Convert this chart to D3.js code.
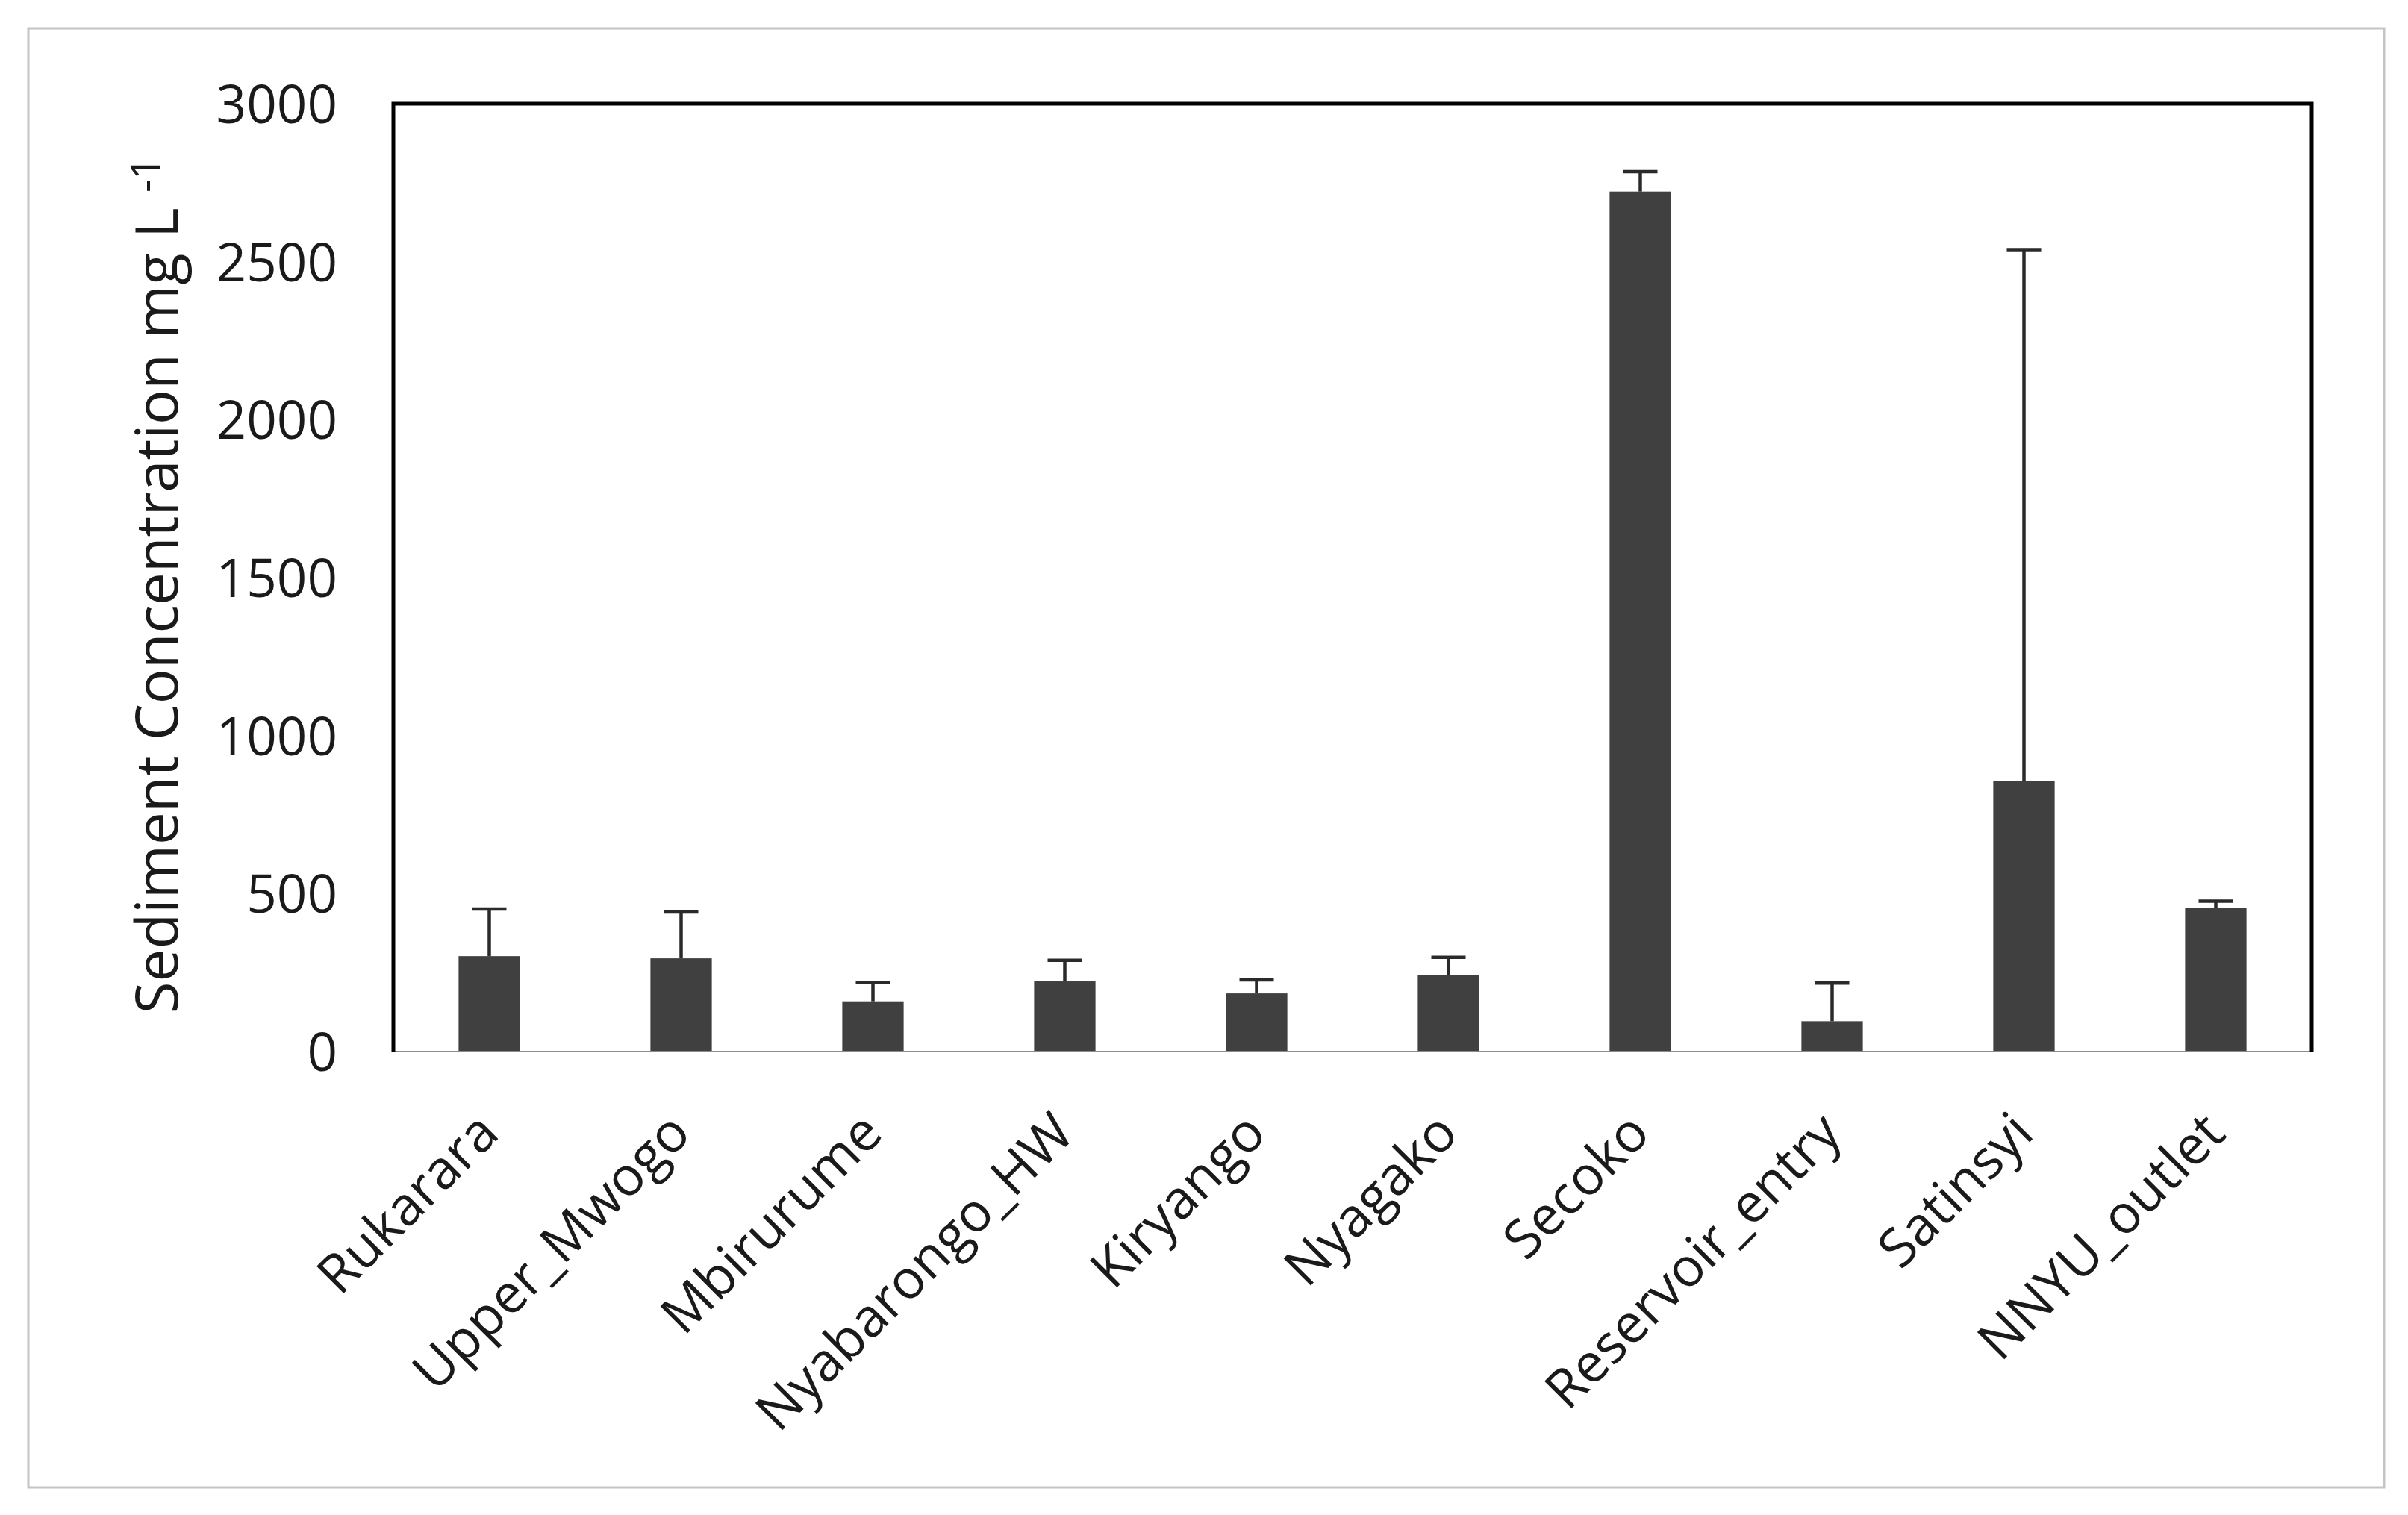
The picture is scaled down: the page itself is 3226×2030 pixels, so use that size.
<!DOCTYPE html>
<html>
<head>
<meta charset="utf-8">
<script src="https://cdnjs.cloudflare.com/ajax/libs/d3/7.8.5/d3.min.js"></script>
<style>
  html, body { margin: 0; padding: 0; background: #ffffff; }
  svg { display: block; }
</style>
</head>
<body>
<script>
// ---- data ----
const categories = ["Rukarara", "Upper_Mwogo", "Mbirurume", "Nyabarongo_HW", "Kiryango",
                    "Nyagako", "Secoko", "Reservoir_entry", "Satinsyi", "NNYU_outlet"];
const values = [302, 295, 159, 222, 184, 242, 2722, 96, 856, 454];
const upperErrors = [149, 147, 59, 67, 43, 56, 63, 121, 1682, 22];
const yTicks = [0, 500, 1000, 1500, 2000, 2500, 3000];
const yTitle = "Sediment Concentration mg L";
const yTitleSup = "-1";

// ---- layout ----
const W = 3226, H = 2030;
const plot = { left: 527, right: 3097, top: 139, bottom: 1409 };
const FONT = "'Open Sans', 'Noto Sans', sans-serif";

const svg = d3.select("body").append("svg")
  .attr("width", W).attr("height", H)
  .attr("viewBox", `0 0 ${W} ${H}`);

svg.append("rect").attr("width", W).attr("height", H).attr("fill", "#ffffff");

// outer chart border
svg.append("rect")
  .attr("x", 38).attr("y", 38)
  .attr("width", 3194 - 38).attr("height", 1993 - 38)
  .attr("fill", "none").attr("stroke", "#c4c4c4").attr("stroke-width", 3);

const x = d3.scaleBand()
  .domain(categories)
  .range([plot.left, plot.right])
  .paddingInner(0.68)
  .paddingOuter(0.34);

const y = d3.scaleLinear()
  .domain([0, 3000])
  .range([plot.bottom, plot.top]);

// bars
const data = categories.map((c, i) => ({ c, v: values[i], e: upperErrors[i] }));

svg.append("g").selectAll("rect")
  .data(data).join("rect")
  .attr("x", d => x(d.c))
  .attr("y", d => y(d.v))
  .attr("width", x.bandwidth())
  .attr("height", d => y(0) - y(d.v))
  .attr("fill", "#404040");

// error bars (upper only)
const capW = 46;
const eg = svg.append("g").attr("stroke", "#2a2a2a").attr("stroke-width", 4.5).attr("fill", "none");
eg.selectAll("line.stem").data(data).join("line").attr("class", "stem")
  .attr("x1", d => x(d.c) + x.bandwidth() / 2)
  .attr("x2", d => x(d.c) + x.bandwidth() / 2)
  .attr("y1", d => y(d.v))
  .attr("y2", d => y(d.v + d.e));
eg.selectAll("line.cap").data(data).join("line").attr("class", "cap")
  .attr("x1", d => x(d.c) + x.bandwidth() / 2 - capW / 2)
  .attr("x2", d => x(d.c) + x.bandwidth() / 2 + capW / 2)
  .attr("y1", d => y(d.v + d.e))
  .attr("y2", d => y(d.v + d.e));

// bottom axis line (thin gray)
svg.append("line")
  .attr("x1", plot.left).attr("x2", plot.right)
  .attr("y1", plot.bottom).attr("y2", plot.bottom)
  .attr("stroke", "#8c8c8c").attr("stroke-width", 2);

// frame: left, top, right (thick black)
svg.append("path")
  .attr("d", `M${plot.left},${plot.bottom} L${plot.left},${plot.top} L${plot.right},${plot.top} L${plot.right},${plot.bottom}`)
  .attr("fill", "none").attr("stroke", "#000000").attr("stroke-width", 5)
  .attr("stroke-linejoin", "miter");

// y axis tick labels
const yAxis = d3.axisLeft(y).tickValues(yTicks).tickSize(0).tickPadding(0).tickFormat(d3.format("d"));
const yg = svg.append("g").attr("transform", `translate(452,0)`).call(yAxis);
yg.select(".domain").remove();
yg.selectAll("text")
  .attr("font-family", FONT).attr("font-size", 71).attr("fill", "#1a1a1a")
  .attr("x", 0).attr("dy", "0.357em");

// x axis category labels
const xAxis = d3.axisBottom(x).tickSize(0).tickPadding(0);
const xg = svg.append("g").attr("transform", `translate(0,${plot.bottom})`).call(xAxis);
xg.select(".domain").remove();
xg.selectAll("text")
  .attr("font-family", FONT).attr("font-size", 72).attr("fill", "#1a1a1a")
  .attr("text-anchor", "end")
  .attr("y", 0).attr("dy", 0)
  .attr("transform", "translate(16,113) rotate(-45)");

// y axis title
const title = svg.append("text")
  .attr("transform", `translate(238,784) rotate(-90)`)
  .attr("text-anchor", "middle")
  .attr("font-family", FONT).attr("font-size", 78).attr("fill", "#1a1a1a");
title.append("tspan").text(yTitle + " ");
title.append("tspan").attr("font-size", 54).attr("dy", -24).text(yTitleSup);
</script>
</body>
</html>
